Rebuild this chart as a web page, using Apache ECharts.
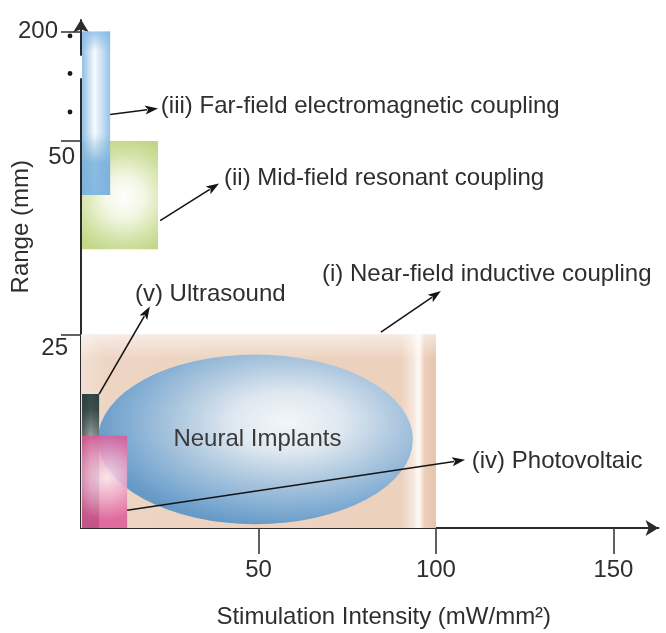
<!DOCTYPE html>
<html><head><meta charset="utf-8">
<script src="https://cdn.jsdelivr.net/npm/echarts@6/dist/echarts.min.js"></script>
<style>html,body{margin:0;padding:0;background:#fff}#chart{width:666px;height:633px}</style>
</head><body><div id="chart"></div>
<script>
// ---------------- data ----------------
const regionNames = ['(i) Near-field inductive coupling', 'Neural Implants', '(v) Ultrasound', '(iv) Photovoltaic', '(ii) Mid-field resonant coupling', '(iii) Far-field electromagnetic coupling'];
const regionIntensityMin = [0, 4.8, 0.3, 0.3, 0.3, 0.3];      // mW/mm2
const regionIntensityMax = [100, 93.5, 5.1, 13, 21.7, 8.2];   // mW/mm2
const regionRangeMin = [0, 0.5, 0, 0, 36, 43];                // mm
const regionRangeMax = [25, 22.4, 17.3, 11.9, 50, 200];       // mm
const xTickValues = [50, 100, 150];
const yTickValues = [25, 50, 200];
const annotationTexts = ['(iii) Far-field electromagnetic coupling', '(ii) Mid-field resonant coupling', '(i) Near-field inductive coupling', '(v) Ultrasound', '(iv) Photovoltaic'];
const arrowFromX = [8.2, 22.3, 84.5, 5.1, 13];
const arrowFromY = [53.4, 39.7, 25.3, 17.3, 2.3];
const arrowToX = [21.7, 38.9, 101.4, 19.4, 108.2];
const arrowToY = [54.2, 44.5, 30.6, 28.6, 8.8];
const labelX = [22.5, 40.3, 67.9, 15.2, 110.1];
const labelY = [54.5, 45.2, 32.8, 30.2, 8.65];

// ---------------- styles ----------------
const FONT = '"Liberation Sans", Arial, Helvetica, sans-serif';
const TXT = '#2e2e2e';
const lin = (x, y, x2, y2, stops) => ({type: 'linear', x, y, x2, y2, colorStops: stops.map(s => ({offset: s[0], color: s[1]}))});
const rad = (x, y, r, stops) => ({type: 'radial', x, y, r, colorStops: stops.map(s => ({offset: s[0], color: s[1]}))});
const regionStyles = [
  {layers: [
    lin(0, 0, 1, 0, [[0, '#f2e0d4'], [0.07, '#edd5c3'], [0.9, '#ecd1bd'], [0.935, '#f5e6dc'], [0.952, '#fefaf7'], [0.968, '#ecceb9'], [1, '#e6c4ab']]),
    lin(0, 0, 0, 1, [[0, 'rgba(255,255,255,0.55)'], [0.13, 'rgba(255,255,255,0)'], [1, 'rgba(255,255,255,0)']])
  ], opacity: 1},
  {ellipse: true, fill: rad(0.6, 0.4, 0.62, [[0, '#f3f6f8'], [0.28, '#dfe8f0'], [0.58, '#abc6de'], [0.84, '#7eabd2'], [1, '#6699c6']])},
  {layers: [
    lin(0, 0, 0, 1, [[0, '#33464a'], [0.12, '#40534f'], [0.38, '#b4bebb'], [0.7, '#8a9592'], [1, '#3a3337']]),
    lin(0, 0, 1, 0, [[0, 'rgba(38,50,48,0.55)'], [0.5, 'rgba(38,50,48,0)'], [1, 'rgba(38,50,48,0.35)']])
  ], opacity: 1},
  {layers: [rad(0.55, 0.45, 0.95, [[0, '#fbe8f0'], [0.45, '#f0aacb'], [1, '#dc5996']])], opacity: 0.85},
  {layers: [rad(0.55, 0.52, 0.8, [[0, '#ffffff'], [0.35, '#f1f6e2'], [0.75, '#d0e1a2'], [1, '#c1d686']])], opacity: 1},
  {layers: [
    lin(0, 0, 1, 0, [[0, '#86b9e4'], [0.45, '#f6fafd'], [1, '#8dbde6']]),
    lin(0, 0, 0, 1, [[0, 'rgba(134,185,228,0.85)'], [0.12, 'rgba(134,185,228,0)'], [0.62, 'rgba(134,185,228,0)'], [0.8, 'rgba(120,176,220,0.9)'], [1, 'rgba(120,176,220,0.95)']])
  ], opacity: 0.92}
];
const breakDotFractions = [0.264, 0.616, 0.96];

function renderRegion(params, api) {
  const i = params.dataIndex;
  const p0 = api.coord([api.value(0), api.value(2)]);
  const p1 = api.coord([api.value(1), api.value(3)]);
  const x = p0[0], y = p1[1], w = p1[0] - p0[0], h = p0[1] - p1[1];
  const st = regionStyles[i];
  if (st.ellipse) {
    const rx = w / 2, ry = h / 2;
    return {type: 'group', children: [
      {type: 'circle', shape: {cx: 0, cy: 0, r: ry}, x: x + rx, y: y + ry, scaleX: rx / ry, style: {fill: st.fill}},
      {type: 'text', x: x + rx + 2, y: y + ry, style: {text: regionNames[i], fill: '#3a3a3a', font: '24px ' + FONT, align: 'center', verticalAlign: 'middle'}}
    ]};
  }
  return {type: 'group', children: st.layers.map(f => ({type: 'rect', shape: {x, y, width: w, height: h}, style: {fill: f, opacity: st.opacity}}))};
}

function renderAnnotation(params, api) {
  const i = params.dataIndex;
  const a = api.coord([api.value(0), api.value(1)]);
  const b = api.coord([api.value(2), api.value(3)]);
  const l = api.coord([api.value(4), api.value(5)]);
  const ang = Math.atan2(b[1] - a[1], b[0] - a[0]);
  const c = Math.cos(ang), s = Math.sin(ang);
  const L = 13, W = 4.5;
  const base = [b[0] - L * c, b[1] - L * s];
  return {type: 'group', children: [
    {type: 'line', shape: {x1: a[0], y1: a[1], x2: base[0] + 2 * c, y2: base[1] + 2 * s}, style: {stroke: '#151515', lineWidth: 1.6}},
    {type: 'polygon', shape: {points: [b, [base[0] + W * s, base[1] - W * c], [base[0] + 3 * c, base[1] + 3 * s], [base[0] - W * s, base[1] + W * c]]}, style: {fill: '#151515'}},
    {type: 'text', x: l[0], y: l[1], style: {text: annotationTexts[i], fill: TXT, font: '24px ' + FONT, align: 'left', verticalAlign: 'middle'}}
  ]};
}

function renderBreakDots(params, api) {
  const p50 = api.coord([0, yTickValues[1]]);
  const p200 = api.coord([0, yTickValues[2]]);
  return {type: 'group', children: breakDotFractions.map(f => ({
    type: 'circle', shape: {cx: p50[0] - 11, cy: p50[1] + (p200[1] - p50[1]) * f, r: 2.4}, style: {fill: '#1a1a1a'}
  }))};
}

const yLabelKey = {25: 'low', 50: 'mid', 200: 'top'};
const lblBase = {fontSize: 24, color: TXT, fontFamily: FONT};

const chart = echarts.init(document.getElementById('chart'), null, {renderer: 'canvas'});
chart.setOption({
  animation: false,
  backgroundColor: '#ffffff',
  grid: {left: 81, right: 7.5, top: 19.5, bottom: 105, outerBoundsMode: 'none', containLabel: false},
  xAxis: {
    type: 'value', min: 0, max: 162.7,
    splitLine: {show: false},
    axisLine: {lineStyle: {color: '#2b2b2b', width: 2}, symbol: ['none', 'arrow'], symbolSize: [12, 13]},
    axisTick: {customValues: xTickValues, length: 26, lineStyle: {color: '#3a3a3a', width: 1.6}},
    axisLabel: {customValues: xTickValues, margin: 30, fontSize: 24, color: TXT, fontFamily: FONT},
    name: 'Stimulation Intensity (mW/mm\u00b2)', nameLocation: 'middle', nameGap: 77, nameMoveOverlap: false,
    nameTextStyle: {fontSize: 24, color: TXT, fontFamily: FONT, padding: [0, 0, 0, 28]}
  },
  yAxis: {
    type: 'value', min: 0, max: 201.55,
    breaks: [{start: 58, end: 197, gap: 3.13}],
    breakArea: {show: false},
    splitLine: {show: false},
    axisLine: {lineStyle: {color: '#2b2b2b', width: 2}, symbol: ['none', 'arrow'], symbolSize: [12, 13]},
    axisTick: {customValues: yTickValues, length: 20, lineStyle: {color: '#3a3a3a', width: 1.6}},
    axisLabel: {
      customValues: yTickValues, margin: 6, fontSize: 24, color: TXT, fontFamily: FONT,
      formatter: v => '{' + yLabelKey[v] + '|' + v + '}',
      rich: {
        top: Object.assign({padding: [0, 17, 0, 0]}, lblBase),
        mid: Object.assign({padding: [32, 0, 0, 0]}, lblBase),
        low: Object.assign({padding: [28, 7, 0, 0]}, lblBase)
      }
    },
    name: 'Range (mm)', nameLocation: 'middle', nameGap: 48, nameMoveOverlap: false,
    nameTextStyle: {fontSize: 24, color: TXT, fontFamily: FONT, padding: [0, 0, 0, 94]}
  },
  series: [
    {
      type: 'custom', name: 'regions', renderItem: renderRegion, clip: false, z: 2,
      encode: {x: [0, 1], y: [2, 3]},
      data: regionNames.map((n, i) => [regionIntensityMin[i], regionIntensityMax[i], regionRangeMin[i], regionRangeMax[i]])
    },
    {
      type: 'custom', name: 'annotations', renderItem: renderAnnotation, clip: false, z: 5,
      encode: {x: [0, 2, 4], y: [1, 3, 5]},
      data: annotationTexts.map((t, i) => [arrowFromX[i], arrowFromY[i], arrowToX[i], arrowToY[i], labelX[i], labelY[i]])
    },
    {
      type: 'custom', name: 'axisBreakDots', renderItem: renderBreakDots, clip: false, z: 5,
      data: [[0, 0]]
    }
  ]
});
</script></body></html>
